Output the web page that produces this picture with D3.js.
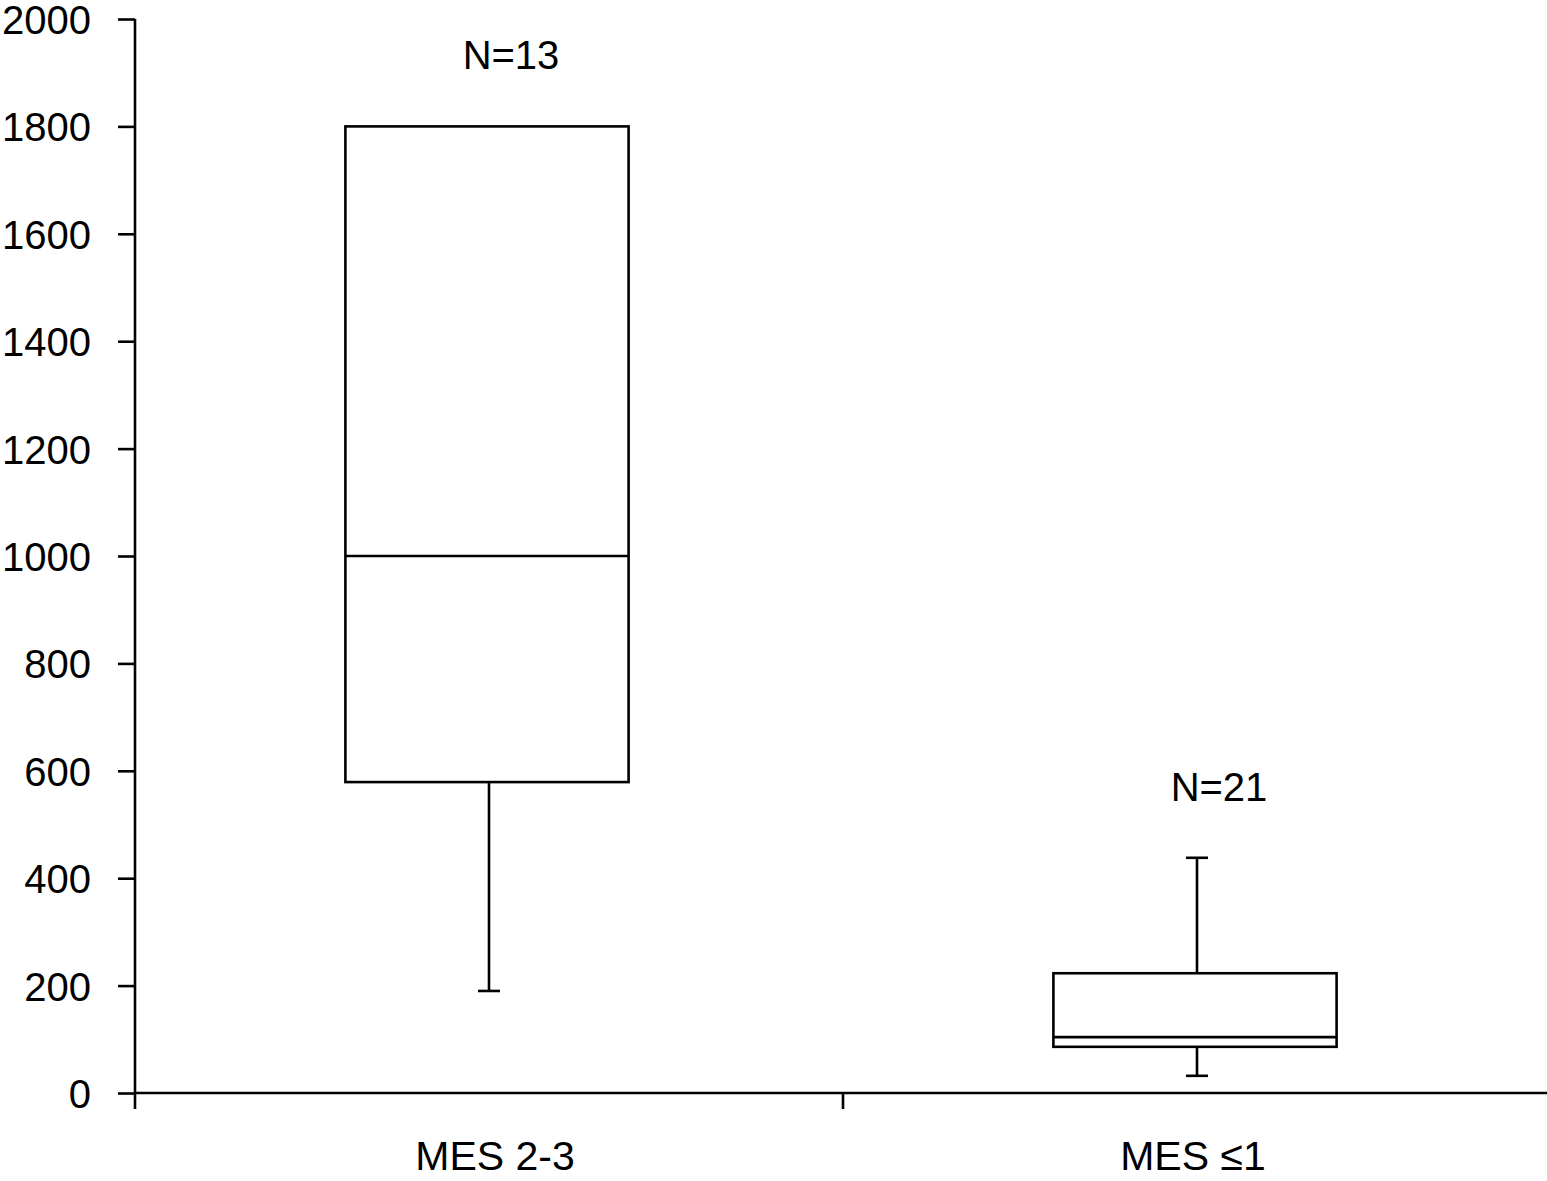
<!DOCTYPE html>
<html>
<head>
<meta charset="utf-8">
<script src="https://cdn.jsdelivr.net/npm/d3@7"></script>
<style>
  body { margin: 0; background: #fff; }
  text { font-family: "Liberation Sans", Arial, sans-serif; fill: #000; }
</style>
</head>
<body>
<div id="chart"></div>
<script>
// groups and box statistics
const groups = ["MES 2-3", "MES \u22641"];
const counts = ["N=13", "N=21"];
const whiskerLow = [190, 32];
const q1 = [579, 86];
const median = [1000, 104];
const q3 = [1800, 223];
const whiskerHigh = [1800, 438];
const yTicks = [0, 200, 400, 600, 800, 1000, 1200, 1400, 1600, 1800, 2000];

const width = 1547, height = 1181;

const svg = d3.select("#chart").append("svg")
    .attr("width", width)
    .attr("height", height);

const y = d3.scaleLinear().domain([0, 2000]).range([1093, 19]);
const x = d3.scaleBand().domain(groups).range([135, 1551]).paddingInner(0);

// y axis
const yAxis = svg.append("g")
    .attr("transform", "translate(135,0)")
    .call(d3.axisLeft(y).tickValues(yTicks).tickFormat(d3.format("d"))
        .tickSize(17).tickPadding(27).tickSizeOuter(0));
yAxis.select(".domain").attr("stroke-width", 2.6).attr("d", "M0," + y(2000) + "V" + y(0));
yAxis.selectAll(".tick line").attr("stroke-width", 2.6);
yAxis.selectAll(".tick text").style("font-size", "40px").attr("dy", "0.36em");

// x axis line and the group separator ticks
svg.append("line")
    .attr("x1", 135).attr("x2", width)
    .attr("y1", y(0)).attr("y2", y(0))
    .attr("stroke", "#000").attr("stroke-width", 2.6);
svg.selectAll(".xtick")
    .data(groups)
    .enter().append("line")
    .attr("class", "xtick")
    .attr("x1", d => x(d)).attr("x2", d => x(d))
    .attr("y1", y(0)).attr("y2", y(0) + 16)
    .attr("stroke", "#000").attr("stroke-width", 2.6);
svg.selectAll(".xlabel")
    .data(groups)
    .enter().append("text")
    .attr("class", "xlabel")
    .attr("x", (d, i) => x(d) + x.bandwidth() / 2 + (i === 0 ? 6 : -4))
    .attr("y", 1170)
    .attr("text-anchor", "middle")
    .style("font-size", "41px")
    .text(d => d);

// boxes
const boxW = x.bandwidth() * 0.4;
const capW = 22;
const boxes = svg.selectAll(".box")
    .data(groups)
    .enter().append("g")
    .attr("class", "box");

boxes.each(function(d, i) {
    const g = d3.select(this);
    const cx = x(d) + x.bandwidth() / 2 - 2;
    const wx = cx + 2;
    // whisker lines
    if (whiskerHigh[i] > q3[i]) {
        g.append("line").attr("x1", wx).attr("x2", wx)
            .attr("y1", y(q3[i])).attr("y2", y(whiskerHigh[i]));
        g.append("line").attr("x1", wx - capW / 2).attr("x2", wx + capW / 2)
            .attr("y1", y(whiskerHigh[i])).attr("y2", y(whiskerHigh[i]));
    }
    g.append("line").attr("x1", wx).attr("x2", wx)
        .attr("y1", y(q1[i])).attr("y2", y(whiskerLow[i]));
    g.append("line").attr("x1", wx - capW / 2).attr("x2", wx + capW / 2)
        .attr("y1", y(whiskerLow[i])).attr("y2", y(whiskerLow[i]));
    // box and median
    g.append("rect")
        .attr("x", cx - boxW / 2).attr("width", boxW)
        .attr("y", y(q3[i])).attr("height", y(q1[i]) - y(q3[i]))
        .attr("fill", "#fff");
    g.append("line").attr("x1", cx - boxW / 2).attr("x2", cx + boxW / 2)
        .attr("y1", y(median[i])).attr("y2", y(median[i]));
    g.selectAll("line, rect").attr("stroke", "#000").attr("stroke-width", 2.6);
    // count label above the top of the whisker
    g.append("text")
        .attr("x", cx + 24)
        .attr("y", y(whiskerHigh[i]) - 57)
        .attr("text-anchor", "middle")
        .style("font-size", "40px")
        .text(counts[i]);
});
</script>
</body>
</html>
